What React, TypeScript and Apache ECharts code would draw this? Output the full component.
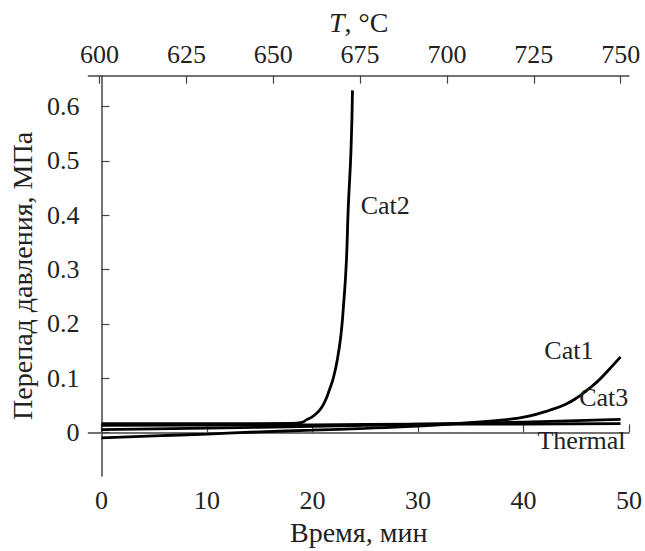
import React, { useEffect, useRef } from "react";
import * as echarts from "echarts";

// ---- data ----
const timeTicks = [0, 10, 20, 30, 40, 50];
const tempTicks = [600, 625, 650, 675, 700, 725, 750];
const pressureTicks = [0, 0.1, 0.2, 0.3, 0.4, 0.5, 0.6];

const cat1Time = [0, 5, 10, 15, 20, 25, 30, 34.6, 38.4, 40.5, 42.4, 44, 45.2, 46, 47, 48, 49.2];
const cat1Values = [-0.01, -0.0065, -0.003, 0.001, 0.004, 0.0075, 0.0115, 0.0175, 0.0235, 0.03, 0.0404, 0.052, 0.0655, 0.0775, 0.0935, 0.1135, 0.139];

const cat2Time = [0, 10, 18, 19, 19.45, 20, 20.7, 21.2, 21.6, 22, 22.39, 22.7, 22.92, 23.2, 23.39, 23.65, 23.79];
const cat2Values = [0.016, 0.016, 0.0165, 0.0185, 0.0235, 0.029, 0.0415, 0.058, 0.078, 0.102, 0.138, 0.18, 0.228, 0.31, 0.414, 0.52, 0.63];

const cat3Time = [0, 10, 20, 30, 40, 49.2];
const cat3Values = [0.005, 0.008, 0.011, 0.015, 0.019, 0.024];

const thermalTime = [0, 10, 20, 30, 40, 49.2];
const thermalValues = [0.013, 0.0135, 0.014, 0.015, 0.0155, 0.016];

const seriesNames = ["Cat1", "Cat2", "Cat3", "Thermal"];
const labelTime = [44.3, 26.9, 47.6, 45.5];
const labelValue = [0.151, 0.418, 0.0645, -0.0155];

const FONT = "'Liberation Serif', 'Times New Roman', Times, serif";
const FS = 26;
const NAME_FS = 28;
const TXT = "#222";
const AX = "#444";

function pairs(xs: number[], ys: number[]) {
  return xs.map((x, i) => [x, ys[i]]);
}

export default function App() {
  const ref = useRef<HTMLDivElement>(null);
  useEffect(() => {
    if (!ref.current) return;
    const chart = echarts.init(ref.current, undefined, { renderer: "svg" });
    const datasets = [
      pairs(cat1Time, cat1Values),
      pairs(cat2Time, cat2Values),
      pairs(cat3Time, cat3Values),
      pairs(thermalTime, thermalValues),
    ];
    const lineSeries = seriesNames.map((name, i) => ({
      name,
      type: "line",
      xAxisIndex: 0,
      yAxisIndex: 0,
      data: datasets[i],
      showSymbol: false,
      smooth: 0.5,
      lineStyle: { color: "#000", width: 2.8 },
      z: 3,
      markPoint: {
        symbol: "circle",
        symbolSize: 0,
        silent: true,
        data: [
          {
            coord: [labelTime[i], labelValue[i]],
            label: {
              show: true,
              position: "inside",
              formatter: name,
              color: TXT,
              fontFamily: FONT,
              fontSize: FS,
            },
          },
        ],
      },
    }));

    const axisCommon = {
      axisLine: { show: true, lineStyle: { color: AX, width: 1.5 } },
      axisTick: { show: true, inside: true, length: 8, lineStyle: { color: AX, width: 1.2 } },
      splitLine: { show: false },
      nameTextStyle: { color: TXT, fontFamily: FONT, fontSize: NAME_FS },
    };

    chart.setOption({
      animation: false,
      backgroundColor: "#fff",
      textStyle: { fontFamily: FONT },
      grid: { left: 81.7, top: 75.7, right: 13.3, bottom: 66.7, containLabel: false },
      xAxis: [
        {
          ...axisCommon,
          type: "value",
          position: "bottom",
          min: -1.24,
          max: 50,
          name: "Время, мин",
          nameLocation: "middle",
          nameGap: 41,
          axisTick: { ...axisCommon.axisTick, customValues: timeTicks },
          axisLabel: {
            customValues: timeTicks,
            color: TXT,
            fontFamily: FONT,
            fontSize: FS,
            margin: 11,
          },
        },
        {
          ...axisCommon,
          type: "value",
          position: "top",
          min: 596.8,
          max: 752.4,
          name: "{i|T}, °C",
          nameLocation: "middle",
          nameGap: 37,
          nameTextStyle: {
            ...axisCommon.nameTextStyle,
            rich: { i: { fontStyle: "italic", fontFamily: FONT, fontSize: NAME_FS, color: TXT } },
          },
          axisTick: { ...axisCommon.axisTick, customValues: tempTicks },
          axisLabel: {
            customValues: tempTicks,
            color: TXT,
            fontFamily: FONT,
            fontSize: FS,
            margin: 8,
          },
        },
      ],
      yAxis: [
        {
          ...axisCommon,
          type: "value",
          min: -0.0805,
          max: 0.657,
          name: "Перепад давления, МПа",
          nameLocation: "middle",
          nameGap: 44,
          axisTick: { ...axisCommon.axisTick, customValues: pressureTicks },
          axisLabel: {
            customValues: pressureTicks,
            color: TXT,
            fontFamily: FONT,
            fontSize: FS,
            margin: 9,
          },
        },
      ],
      series: lineSeries,
    });
    return () => chart.dispose();
  }, []);
  return (
    <div
      ref={ref}
      style={{ position: "fixed", left: 0, top: 0, width: 645, height: 551, background: "#fff" }}
    />
  );
}
